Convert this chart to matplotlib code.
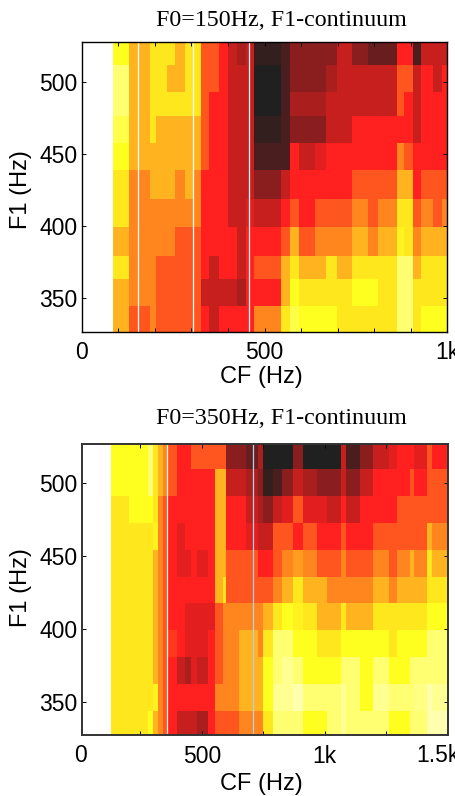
import matplotlib
matplotlib.use('Agg')
from matplotlib import pyplot as plt
from matplotlib.colors import LinearSegmentedColormap

# colour levels, 0 = palest yellow, 11 = almost black
LEVEL_COLORS = ['#FFFFB0', '#FFFF70', '#FFFF1E', '#FFE61E', '#FFB41E', '#FF851E',
                '#FF551E', '#FF1F1F', '#C81E1E', '#8B1E1E', '#4A1E1E', '#202020']

# F0=150Hz panel
cf_edges_150 = [86.5, 130, 187, 202, 232, 254, 282, 303, 325, 348, 376, 400, 423.5, 449, 471, 544,
                569, 595, 637.5, 669, 697, 740, 783, 810.5, 862.5, 881.6, 906, 927, 961, 983.6, 1000]
f1_edges_150 = [527.8, 511.6, 493, 476, 457.7, 439, 418.6, 399.4, 379.3, 362.9, 344.5, 326.6]
levels_150 = [
    [2, 4, 3, 3, 3, 4, 3, 3, 6, 6, 7, 8, 8.5, 8, 10.5, 10, 9, 9, 9, 9, 8, 9, 9.5, 9.5, 7, 7, 10, 8, 8, 8],
    [1, 4, 3, 3, 4, 4, 3, 3, 6, 6, 7, 8, 8, 8, 11, 10, 9, 9, 9, 8.5, 8, 8, 8, 8, 6, 6, 8, 7, 8, 7],
    [1, 4, 3, 3, 3, 3, 3, 3, 6, 7, 7, 8, 8, 8, 11, 10, 8.5, 8.5, 8.5, 8, 8, 8, 8, 8, 6, 7, 8, 7, 7, 7],
    [1.5, 4, 3, 4, 4, 4, 4, 4, 6, 7, 7, 8, 8, 8, 10.5, 10, 9, 9, 9, 8, 8, 7, 7, 7, 7, 7, 8, 7, 7, 7],
    [2, 4, 4, 4, 4, 4, 4, 4, 6, 7, 7, 8, 8, 8, 10, 10, 7, 8, 7.5, 7, 7, 7, 7, 7, 5, 6, 7, 7, 7, 7],
    [3, 5, 4, 4, 4, 5, 4, 5, 7, 7, 7, 8, 8, 8, 9, 8, 7, 7, 7, 7, 7, 6, 6, 6, 4, 4, 7, 6, 6, 6],
    [3, 5, 5, 5, 5, 5, 5, 5, 7, 7, 7, 8, 8, 7.5, 8, 7, 6, 7, 6, 6, 6, 5, 6, 5, 3, 3, 6, 5, 6, 5],
    [4, 5, 5, 5, 5, 6, 6, 6, 7, 7, 7, 7, 8, 7, 7, 6, 4, 6, 5, 5, 5, 4, 5, 4, 2.5, 3, 5, 4, 4, 4],
    [3, 5, 5, 6, 6, 6, 6, 6, 7, 8, 7, 7, 8, 7, 6, 4, 3, 4, 4, 3, 4, 3, 3, 3, 1, 1, 4, 3, 3, 3],
    [4, 5, 5, 6, 6, 6, 6, 6, 8, 8, 8, 8, 8.5, 7, 7, 4, 2, 3, 3, 3, 3, 2, 2, 3, 1, 1, 3, 3, 3, 3],
    [4, 6, 5, 6, 6, 6, 6, 6, 7, 8, 7, 7, 7, 7, 5, 3, 1.5, 2, 2, 2, 3, 3, 3, 3, 1, 1, 3, 2, 2, 2],
]
lines_150 = [153, 305, 458]

# F0=350Hz panel
cf_edges_350 = [129, 205, 283, 303, 323, 344, 360, 401, 432, 455, 480, 527, 554, 588, 598, 653.5, 681, 728,
                751, 792, 826, 871, 914, 969, 1009.5, 1066.5, 1088, 1143, 1197, 1261, 1295, 1349, 1363,
                1417, 1437.5, 1503]
f1_edges_350 = [527, 509.6, 491.3, 472.5, 454.2, 435.9, 417.6, 399.3, 381, 362.2, 343.9, 327.2]
levels_350 = [
    [2, 2, 1, 3, 4, 5, 6, 7, 7, 6, 6, 6, 6, 6, 9, 9, 9.5, 8.5, 11, 11, 11, 9, 11, 11, 11, 8, 10, 9, 8, 7.5, 7, 7, 7.5, 6, 7],
    [2, 2, 1, 3, 4, 5, 6, 7, 7, 7, 7, 7, 4, 4, 8, 8, 8.5, 9, 10.5, 10, 9, 8, 8.5, 9, 9, 8, 9, 8, 7, 7, 7, 6, 7, 6, 6],
    [3, 2, 2, 3, 5, 6, 7, 7, 7, 7, 7, 7, 4, 4, 7, 7, 8, 8.5, 9, 8, 7.5, 6, 7.5, 7.5, 8, 7, 8, 7, 7, 7, 6, 6, 6, 6, 6],
    [3, 3, 3, 2.5, 5, 6, 7, 7.5, 7, 7, 7, 7, 4, 4, 7, 7, 7.5, 8, 8, 6, 6, 7, 6, 7, 7, 6, 7, 7, 6, 6, 6, 6, 6, 4, 5],
    [3, 3, 3, 4, 5, 6, 7, 7.5, 7.5, 7, 7.5, 7, 4, 4, 6, 6, 6, 7, 7, 6, 5, 4.5, 5, 6, 6, 5, 6, 6, 5, 6, 5, 4, 5, 3, 4],
    [3, 3, 3, 4, 5, 6, 7, 7, 7, 7, 7, 7, 4, 3, 6, 6, 6, 6, 6, 5, 4, 3, 4, 4, 5, 5, 5, 5, 4, 5, 4, 4, 4, 3, 3],
    [3, 3, 3, 4, 5, 6, 7, 7, 7.5, 7.5, 7.5, 7.5, 6, 5, 5, 5, 5, 5, 4, 3, 2, 2.5, 3, 4, 4, 3, 4, 4, 3, 3, 3, 3, 3, 2, 2],
    [3, 3, 3, 4, 5, 6, 6.5, 7, 7.5, 7.5, 7.5, 7, 6, 5, 5, 4, 4, 5, 3, 1, 1, 2, 2, 3, 3, 2, 2, 2, 2, 3, 2, 2, 2, 1, 1],
    [3, 3, 3, 4, 5, 6, 7, 8, 8.5, 7.5, 8, 7, 6, 5, 5, 4, 4, 4, 2, 1, 0.5, 1, 2, 2, 2, 1, 1, 2, 1, 2, 2, 1, 1, 1, 1],
    [3, 3, 3, 2.5, 5, 6, 7, 7, 7, 7, 7, 7, 5, 5, 5, 4, 4, 4, 2, 0.5, 0.5, 0, 1, 1, 1, 0.5, 1, 2, 0.5, 1, 1, 1, 0.7, 0, 0.5],
    [3, 3, 2, 4, 5, 6, 7, 8, 8, 8, 8.5, 7, 6, 6, 6, 5, 5, 5, 3, 1, 1, 1, 2, 2, 1, 0.5, 1, 1, 1, 2, 2, 1, 1, 0, 0],
]
lines_350 = [360, 708]

f1_ticks = [350, 400, 450, 500]

W = 456
H = 796
TICK_SIZE = 16.5
LABEL_SIZE = 17
TITLE_SIZE = 17.3
cmap = LinearSegmentedColormap.from_list('heat', LEVEL_COLORS, N=256)


def add_panel(left, right, top, bottom, xlim, ylim):
    """Axes placed by its pixel box in the figure"""
    return fig.add_axes([left / W, 1 - bottom / H, (right - left) / W, (bottom - top) / H],
                        xlim=xlim, ylim=ylim)


def put_text(x, y, s, **kw):
    """Figure text placed by its centre in pixels"""
    fig.text(x / W, 1 - y / H, s, ha='center', va='center', **kw)


def style_panel(ax, cf_edges, f1_edges, levels, lines, line_colors, spine_color, spine_width):
    ax.pcolormesh(cf_edges, f1_edges, levels, cmap=cmap, vmin=0, vmax=11, shading='flat')
    for x, c in zip(lines, line_colors):
        ax.axvline(x, color=c, lw=0.9)
    ax.set_yticks(f1_ticks)
    ax.tick_params(direction='in', top=True, right=True, length=3, width=0.7,
                   labelsize=TICK_SIZE, pad=3)
    ax.tick_params(axis='x', pad=7)
    for s in ax.spines.values():
        s.set_color(spine_color)
        s.set_linewidth(spine_width)


plt.rcParams['font.family'] = ['Liberation Sans', 'DejaVu Sans']
fig = plt.figure(figsize=(W / 100, H / 100), dpi=100)

ax1 = add_panel(81.7, 447.5, 41.7, 331.7, (0, 1000), (326.6, 527.8))
style_panel(ax1, cf_edges_150, f1_edges_150, levels_150, lines_150, ['white'] * 3, 'black', 1.0)
ax1.set_xticks(range(0, 1001, 100))
ax1.set_xticklabels(['0', '', '', '', '', '500', '', '', '', '', '1k'])
put_text(261, 377, 'CF (Hz)', fontsize=LABEL_SIZE)
put_text(21, 190, 'F1 (Hz)', fontsize=LABEL_SIZE, rotation=90)
put_text(281, 21, 'F0=150Hz, F1-continuum', family='Liberation Serif', fontsize=TITLE_SIZE)

ax2 = add_panel(81.7, 448, 444, 735, (11, 1503), (327.2, 527))
style_panel(ax2, cf_edges_350, f1_edges_350, levels_350, lines_350, ['#FFF4E0', '#B4D2E6'], '#333333', 1.4)
ax2.set_xticks(range(250, 1501, 250))
ax2.set_xticklabels(['', '500', '', '1k', '', ''])
put_text(81, 756, '0', fontsize=TICK_SIZE)
put_text(438, 756, '1.5k', fontsize=TICK_SIZE)
put_text(261, 784, 'CF (Hz)', fontsize=LABEL_SIZE)
put_text(21, 588, 'F1 (Hz)', fontsize=LABEL_SIZE, rotation=90)
put_text(281, 418, 'F0=350Hz, F1-continuum', family='Liberation Serif', fontsize=TITLE_SIZE)

fig.savefig('out.png', dpi=100)
